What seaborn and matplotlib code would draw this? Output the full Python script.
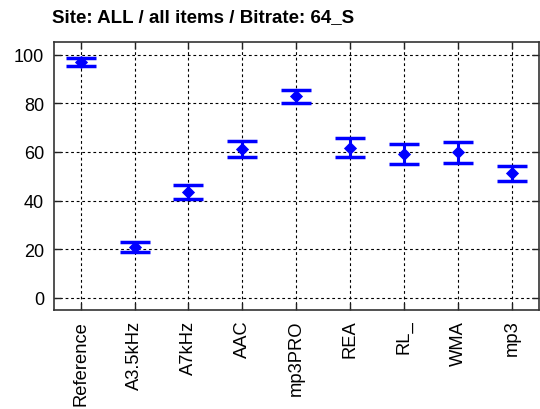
import matplotlib
matplotlib.use('Agg')
import matplotlib.pyplot as plt
import seaborn as sns
import pandas as pd

codecs = ['Reference', 'A3.5kHz', 'A7kHz', 'AAC', 'mp3PRO', 'REA', 'RL_', 'WMA', 'mp3']
means = [96.9, 21.0, 43.4, 61.2, 82.9, 61.6, 59.1, 59.8, 51.3]
upper = [98.5, 23.0, 46.4, 64.5, 85.6, 65.6, 63.3, 63.9, 54.3]
lower = [95.3, 18.9, 40.6, 57.8, 80.2, 57.8, 55.0, 55.4, 48.1]
yticks = [0, 20, 40, 60, 80, 100]

df = pd.DataFrame({'codec': codecs, 'mean': means, 'upper': upper, 'lower': lower})
df['pos'] = range(len(df))

sns.set_style('white')
plt.rcParams['font.family'] = ['Liberation Sans', 'DejaVu Sans']
plt.rcParams['text.color'] = 'black'

fig = plt.figure(figsize=(5.4, 4.1), dpi=100)
ax = fig.add_axes([0.0994, 0.2415, 0.8986, 0.6525])

ax.errorbar(df['pos'], df['mean'],
            yerr=[df['mean'] - df['lower'], df['upper'] - df['mean']],
            fmt='none', ecolor='blue', elinewidth=2.2, capsize=11, capthick=2.5, zorder=3)
sns.scatterplot(data=df, x='pos', y='mean', marker='D', color='blue', s=45,
                edgecolor='blue', linewidth=0, zorder=4, ax=ax, legend=False)

ax.set_xlim(-0.5, 8.5)
ax.set_ylim(-5, 105)
ax.set_xticks(df['pos'])
ax.set_xticklabels(codecs, rotation=90, fontsize=13.2)
ax.set_yticks(yticks)
ax.set_yticklabels([str(v) for v in yticks], fontsize=13)
ax.set_xlabel('')
ax.set_ylabel('')

ax.grid(True, color='black', linestyle=(0, (2.5, 2.5)), linewidth=0.8)
ax.tick_params(direction='in', length=5, width=1, top=True, right=True,
               bottom=True, left=True, colors='#222222', labelcolor='black', pad=7)
for side in ax.spines.values():
    side.set_color('#333333')
    side.set_linewidth(1.2)

fig.text(0.096, 0.958, 'Site: ALL / all items / Bitrate: 64_S', fontsize=13.5,
         fontweight='bold', ha='left', va='center', color='black')

fig.savefig('out.png', dpi=100)
